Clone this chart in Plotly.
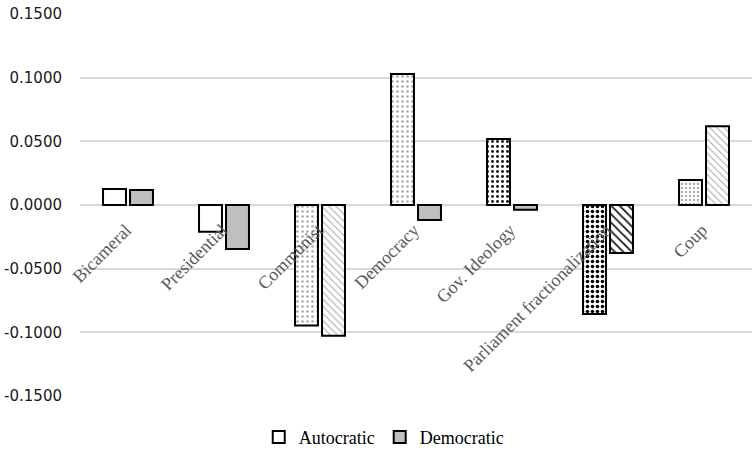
import plotly.graph_objects as go

categories = ["Bicameral", "Presidential", "Communist", "Democracy",
              "Gov. Ideology", "Parliament fractionalization", "Coup"]
autocratic = [0.0125, -0.0210, -0.0947, 0.1028, 0.0518, -0.0856, 0.0196]
democratic = [0.0117, -0.0345, -0.1026, -0.0118, -0.0037, -0.0377, 0.0618]
ytick_vals = [-0.15, -0.10, -0.05, 0.0, 0.05, 0.10, 0.15]
ytick_text = ["-0.1500", "-0.1000", "-0.0500", "0.0000", "0.0500", "0.1000", "0.1500"]

# per-bar fill styles (pattern shape, fg colour, bg colour, size, solidity)
auto_shape = ["", "", ".", ".", ".", ".", "."]
auto_fg = ["#ffffff", "#ffffff", "#a8a8a8", "#a8a8a8", "#1a1a1a", "#000000", "#b0b0b0"]
auto_bg = ["#ffffff"] * 7
auto_size = [6, 6, 5, 5, 5, 5, 4]
auto_sol = [0.3, 0.3, 0.2, 0.2, 0.28, 0.4, 0.3]

dem_shape = ["", "", "\\", "", "", "\\", "\\"]
dem_fg = ["#bfbfbf", "#bfbfbf", "#a8a8a8", "#bfbfbf", "#bfbfbf", "#1a1a1a", "#a8a8a8"]
dem_bg = ["#bfbfbf", "#bfbfbf", "#ffffff", "#bfbfbf", "#bfbfbf", "#ffffff", "#ffffff"]
dem_size = [6, 6, 5, 6, 6, 6, 5]
dem_sol = [0.2, 0.2, 0.2, 0.2, 0.2, 0.3, 0.2]

fig = go.Figure()
fig.add_trace(go.Bar(
    name="Autocratic", x=categories, y=autocratic,
    marker=dict(color="#ffffff", line=dict(color="#000000", width=2),
                pattern=dict(shape=auto_shape, fgcolor=auto_fg, bgcolor=auto_bg,
                             size=auto_size, solidity=auto_sol, fillmode="replace")),
))
fig.add_trace(go.Bar(
    name="Democratic", x=categories, y=democratic,
    marker=dict(color="#bfbfbf", line=dict(color="#000000", width=2),
                pattern=dict(shape=dem_shape, fgcolor=dem_fg, bgcolor=dem_bg,
                             size=dem_size, solidity=dem_sol, fillmode="replace")),
))

fig.update_layout(
    width=754, height=452,
    margin=dict(l=80, r=2, t=14, b=56, autoexpand=False),
    paper_bgcolor="white", plot_bgcolor="white",
    barmode="group", bargap=0.4375, bargroupgap=0.15,
    showlegend=True,
    legend=dict(orientation="h", x=0.452, xanchor="center", y=-0.108, yanchor="middle",
                font=dict(family="Liberation Serif", size=18, color="#000000"),
                itemwidth=30, tracegroupgap=0),
    font=dict(family="DejaVu Sans", size=15, color="#000000"),
)
fig.update_yaxes(
    range=[-0.15, 0.15], tickvals=ytick_vals, ticktext=ytick_text,
    showgrid=True, gridcolor="#d9d9d9", gridwidth=1.5,
    zeroline=False, showline=False, automargin=False,
    ticks="", ticklabelstandoff=17,
    tickfont=dict(family="DejaVu Sans", size=15, color="#1a1a1a"),
)
fig.update_xaxes(
    anchor="free", position=0.5, showline=False, showgrid=False, zeroline=False,
    automargin=False, tickangle=-45, layer="above traces",
    ticklabelshift=-2, ticklabelstandoff=10,
    tickfont=dict(family="Liberation Serif", size=18, color="#595959"),
)

fig.write_html("out.html", config={"displayModeBar": False},
               post_script="document.body.style.margin='0';")
